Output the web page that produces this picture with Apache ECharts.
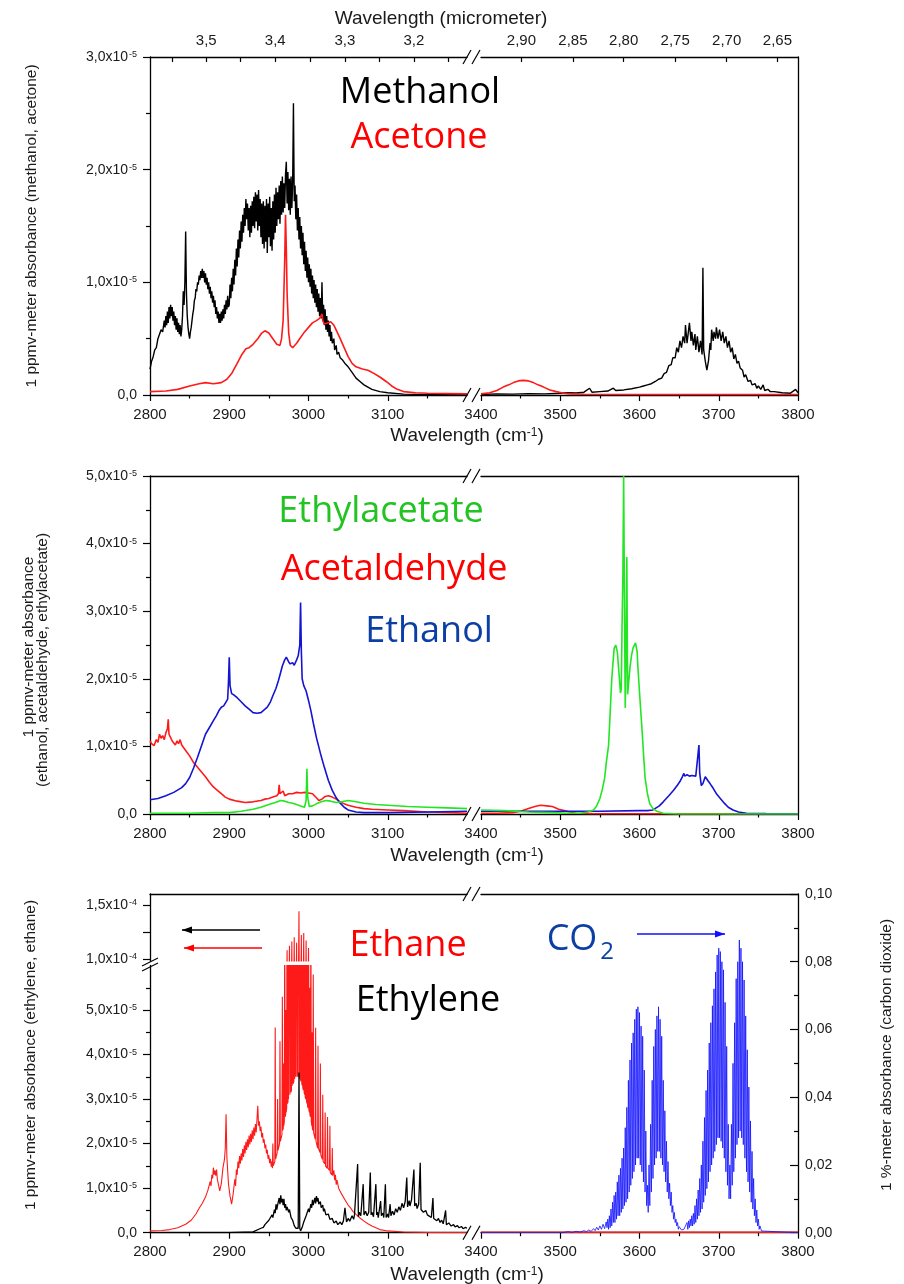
<!DOCTYPE html>
<html>
<head>
<meta charset="utf-8">
<script src="https://cdn.jsdelivr.net/npm/echarts@6/dist/echarts.min.js"></script>
<style>
html,body{margin:0;padding:0;background:#fff;}
#main{width:904px;height:1284px;}
</style>
</head>
<body>
<div id="main"></div>
<script>
/* ---- data: [wavenumber cm-1, absorbance] (ppmv panels in units of 1e-5) ---- */
var methanolLeft = [[2800,0.23],[2802,0.30],[2804,0.34],[2806,0.40],[2808,0.42],[2810,0.50],[2812,0.50],[2814,0.58],[2816,0.56],[2818,0.66],[2819,0.60],[2820,0.70],[2821,0.62],[2822,0.74],[2823,0.64],[2824,0.78],[2825,0.68],[2826,0.80],[2827,0.70],[2828,0.78],[2829,0.66],[2830,0.74],[2831,0.62],[2832,0.70],[2833,0.58],[2834,0.68],[2835,0.56],[2836,0.64],[2837,0.54],[2838,0.62],[2839,0.52],[2840,0.58],[2841,0.70],[2842,0.92],[2843,0.80],[2844,1.00],[2845,1.45],[2846,0.90],[2847,0.70],[2848,0.60],[2849,0.54],[2850,0.50],[2851,0.56],[2852,0.60],[2853,0.66],[2854,0.72],[2855,0.76],[2856,0.84],[2857,0.86],[2858,0.94],[2859,0.92],[2860,1.00],[2861,0.98],[2862,1.06],[2863,1.02],[2864,1.10],[2865,1.04],[2866,1.12],[2867,1.04],[2868,1.10],[2869,1.00],[2870,1.08],[2871,0.98],[2872,1.04],[2873,0.94],[2874,1.00],[2875,0.90],[2876,0.96],[2877,0.86],[2878,0.92],[2879,0.82],[2880,0.88],[2881,0.78],[2882,0.84],[2883,0.72],[2884,0.78],[2885,0.68],[2886,0.74],[2887,0.64],[2888,0.72],[2889,0.64],[2890,0.74],[2891,0.66],[2892,0.76],[2893,0.68],[2894,0.80],[2895,0.72],[2896,0.84],[2897,0.76],[2898,0.88],[2899,0.78],[2900,0.80],[2901,0.98],[2902,0.86],[2903,1.04],[2904,0.92],[2905,1.12],[2906,0.98],[2907,1.20],[2908,1.06],[2909,1.30],[2910,1.14],[2911,1.38],[2912,1.22],[2913,1.46],[2914,1.30],[2915,1.54],[2916,1.36],[2917,1.60],[2918,1.44],[2919,1.66],[2920,1.50],[2921,1.74],[2922,1.56],[2923,1.70],[2924,1.46],[2925,1.66],[2926,1.40],[2927,1.68],[2928,1.44],[2929,1.72],[2930,1.50],[2931,1.76],[2932,1.48],[2933,1.80],[2934,1.54],[2935,1.78],[2936,1.46],[2937,1.82],[2938,1.50],[2939,1.74],[2940,1.40],[2941,1.70],[2942,1.34],[2943,1.72],[2944,1.30],[2945,1.68],[2946,1.36],[2947,1.74],[2948,1.26],[2949,1.70],[2950,1.40],[2951,1.76],[2952,1.32],[2953,1.66],[2954,1.28],[2955,1.72],[2956,1.38],[2957,1.78],[2958,1.44],[2959,1.84],[2960,1.50],[2961,1.80],[2962,1.56],[2963,1.86],[2964,1.52],[2965,1.90],[2966,1.60],[2967,1.94],[2968,1.62],[2969,1.88],[2970,1.66],[2971,1.96],[2972,2.07],[2973,1.70],[2974,1.98],[2975,1.64],[2976,1.92],[2977,1.60],[2978,1.94],[2979,1.66],[2980,1.88],[2981,2.59],[2982,1.72],[2983,1.86],[2984,1.56],[2985,1.78],[2986,1.46],[2987,1.66],[2988,1.38],[2989,1.58],[2990,1.30],[2991,1.50],[2992,1.24],[2993,1.44],[2994,1.16],[2995,1.36],[2996,1.10],[2997,1.28],[2998,1.04],[2999,1.22],[3000,1.00],[3001,1.16],[3002,0.96],[3003,1.12],[3004,0.90],[3005,1.06],[3006,0.86],[3007,1.02],[3008,0.82],[3009,0.98],[3010,0.78],[3011,0.94],[3012,0.74],[3013,0.90],[3014,0.70],[3015,0.86],[3016,0.68],[3017,1.00],[3018,0.66],[3019,0.80],[3020,0.62],[3021,0.76],[3022,0.58],[3023,0.70],[3024,0.56],[3025,0.66],[3026,0.52],[3027,0.62],[3028,0.48],[3029,0.56],[3030,0.46],[3032,0.50],[3033,0.40],[3035,0.44],[3036,0.36],[3038,0.38],[3040,0.33],[3043,0.31],[3046,0.28],[3050,0.25],[3055,0.20],[3060,0.15],[3065,0.12],[3070,0.09],[3075,0.07],[3080,0.05],[3090,0.03],[3100,0.02],[3120,0.008],[3150,0.003],[3200,0.002]];
var methanolRight = [[3400,0.005],[3420,0.01],[3440,0.008],[3460,0.012],[3480,0.01],[3500,0.015],[3510,0.02],[3520,0.018],[3530,0.025],[3537,0.06],[3540,0.025],[3550,0.03],[3560,0.035],[3567,0.06],[3570,0.04],[3580,0.045],[3590,0.055],[3600,0.07],[3605,0.08],[3610,0.09],[3615,0.10],[3620,0.12],[3624,0.14],[3628,0.15],[3631,0.19],[3634,0.20],[3637,0.26],[3640,0.27],[3642,0.33],[3645,0.33],[3647,0.42],[3649,0.38],[3651,0.48],[3653,0.42],[3655,0.52],[3657,0.46],[3658,0.62],[3660,0.46],[3662,0.58],[3663,0.64],[3665,0.48],[3666,0.56],[3668,0.44],[3670,0.54],[3671,0.40],[3673,0.52],[3675,0.38],[3677,0.48],[3679,0.36],[3680,1.13],[3681,0.40],[3683,0.30],[3685,0.22],[3687,0.30],[3689,0.46],[3690,0.40],[3691,0.58],[3693,0.48],[3694,0.56],[3696,0.50],[3697,0.60],[3699,0.50],[3701,0.58],[3703,0.48],[3705,0.56],[3707,0.46],[3709,0.52],[3711,0.42],[3713,0.48],[3715,0.38],[3717,0.42],[3719,0.32],[3721,0.36],[3723,0.28],[3725,0.30],[3727,0.24],[3730,0.22],[3732,0.16],[3734,0.18],[3737,0.12],[3740,0.13],[3742,0.09],[3746,0.10],[3748,0.06],[3750,0.08],[3753,0.05],[3756,0.09],[3758,0.04],[3762,0.05],[3765,0.03],[3770,0.03],[3780,0.02],[3790,0.015],[3797,0.05],[3800,0.02]];
var acetoneLeft = [[2800,0.03],[2820,0.035],[2835,0.05],[2850,0.08],[2862,0.10],[2870,0.11],[2880,0.10],[2890,0.11],[2897,0.14],[2903,0.19],[2910,0.28],[2916,0.36],[2921,0.41],[2925,0.42],[2930,0.45],[2936,0.50],[2941,0.55],[2945,0.57],[2950,0.55],[2955,0.50],[2960,0.45],[2964,0.44],[2966,0.50],[2968,0.66],[2970,1.20],[2971,1.60],[2972,1.30],[2973,0.90],[2975,0.55],[2977,0.44],[2980,0.42],[2985,0.46],[2990,0.51],[2995,0.56],[3000,0.60],[3005,0.64],[3010,0.66],[3014,0.68],[3017,0.72],[3018,0.66],[3020,0.63],[3024,0.64],[3028,0.65],[3032,0.62],[3036,0.56],[3040,0.50],[3045,0.42],[3050,0.34],[3055,0.28],[3060,0.25],[3068,0.23],[3075,0.22],[3083,0.19],[3090,0.16],[3098,0.12],[3105,0.08],[3112,0.05],[3120,0.03],[3135,0.02],[3150,0.015],[3200,0.01]];
var acetoneRight = [[3400,0.01],[3411,0.02],[3420,0.04],[3428,0.07],[3435,0.09],[3441,0.11],[3447,0.125],[3453,0.13],[3460,0.125],[3466,0.11],[3472,0.09],[3479,0.07],[3487,0.045],[3495,0.03],[3504,0.015],[3512,0.01],[3530,0.006],[3600,0.005],[3700,0.005],[3800,0.005]];

var ethanolLeft = [[2800,0.21],[2810,0.23],[2820,0.27],[2830,0.32],[2840,0.39],[2845,0.45],[2850,0.54],[2855,0.68],[2860,0.84],[2865,1.01],[2870,1.18],[2875,1.28],[2880,1.38],[2884,1.46],[2887,1.53],[2890,1.58],[2893,1.60],[2896,1.66],[2898,1.70],[2899,1.95],[2900,2.32],[2901,1.90],[2903,1.78],[2906,1.76],[2910,1.72],[2915,1.66],[2920,1.60],[2925,1.55],[2930,1.50],[2935,1.49],[2940,1.50],[2944,1.54],[2948,1.58],[2952,1.66],[2955,1.75],[2959,1.86],[2962,1.97],[2965,2.10],[2967,2.19],[2970,2.28],[2972,2.32],[2975,2.25],[2977,2.22],[2980,2.24],[2982,2.20],[2985,2.28],[2987,2.34],[2989,2.50],[2990,3.13],[2991,2.40],[2992,2.00],[2994,1.90],[2997,1.82],[3000,1.68],[3003,1.53],[3006,1.35],[3010,1.13],[3015,0.90],[3020,0.69],[3025,0.50],[3030,0.35],[3035,0.24],[3040,0.16],[3045,0.10],[3050,0.06],[3060,0.03],[3070,0.02],[3100,0.02],[3150,0.03],[3200,0.04]];
var ethanolRight = [[3400,0.04],[3450,0.04],[3500,0.04],[3550,0.04],[3600,0.05],[3610,0.05],[3617,0.06],[3625,0.12],[3630,0.18],[3637,0.27],[3643,0.35],[3648,0.43],[3651,0.48],[3654,0.55],[3656,0.60],[3657,0.56],[3660,0.58],[3663,0.56],[3666,0.57],[3668,0.55],[3671,0.56],[3673,0.55],[3675,1.02],[3676,0.60],[3678,0.42],[3680,0.45],[3683,0.55],[3686,0.50],[3689,0.45],[3693,0.38],[3697,0.30],[3702,0.23],[3707,0.16],[3712,0.10],[3718,0.06],[3725,0.03],[3735,0.01],[3760,0.005],[3800,0]];
var acetaldehydeLeft = [[2800,1.08],[2802,1.04],[2805,1.01],[2808,1.10],[2810,1.06],[2812,1.18],[2814,1.12],[2816,1.16],[2818,1.10],[2820,1.20],[2822,1.26],[2823,1.40],[2824,1.18],[2826,1.13],[2828,1.08],[2830,1.06],[2832,1.02],[2834,1.08],[2836,1.04],[2838,1.10],[2840,1.02],[2842,1.00],[2845,0.94],[2850,0.86],[2855,0.76],[2860,0.69],[2865,0.62],[2870,0.55],[2875,0.47],[2880,0.40],[2885,0.35],[2890,0.30],[2895,0.25],[2900,0.22],[2910,0.19],[2920,0.17],[2930,0.18],[2940,0.20],[2945,0.22],[2950,0.23],[2955,0.25],[2960,0.27],[2962,0.30],[2963,0.43],[2964,0.30],[2966,0.28],[2968,0.34],[2970,0.27],[2975,0.30],[2980,0.30],[2985,0.32],[2990,0.31],[2995,0.32],[3000,0.31],[3005,0.30],[3010,0.24],[3013,0.20],[3017,0.22],[3021,0.26],[3025,0.27],[3030,0.25],[3035,0.22],[3040,0.18],[3045,0.15],[3050,0.13],[3060,0.10],[3070,0.08],[3080,0.07],[3100,0.06],[3120,0.05],[3150,0.03],[3180,0.02],[3200,0.01]];
var acetaldehydeRight = [[3400,0.01],[3420,0.01],[3440,0.02],[3450,0.04],[3460,0.08],[3468,0.11],[3475,0.13],[3483,0.12],[3490,0.11],[3498,0.07],[3505,0.05],[3512,0.03],[3520,0.01],[3540,0.005],[3600,0.003],[3800,0.003]];
var ethylacetateLeft = [[2800,0.01],[2850,0.01],[2880,0.02],[2900,0.02],[2915,0.04],[2930,0.07],[2940,0.10],[2950,0.14],[2958,0.17],[2965,0.20],[2970,0.19],[2975,0.17],[2980,0.16],[2985,0.14],[2990,0.12],[2995,0.10],[2997,0.20],[2998,0.67],[2999,0.25],[3001,0.11],[3005,0.12],[3010,0.15],[3016,0.18],[3022,0.20],[3028,0.19],[3035,0.17],[3042,0.18],[3050,0.20],[3060,0.18],[3070,0.16],[3085,0.14],[3100,0.13],[3125,0.11],[3150,0.10],[3175,0.09],[3200,0.08]];
var ethylacetateRight = [[3400,0.06],[3430,0.05],[3460,0.03],[3490,0.02],[3510,0.01],[3525,0.01],[3535,0.03],[3542,0.06],[3546,0.12],[3550,0.23],[3553,0.36],[3556,0.53],[3558,0.75],[3561,1.02],[3563,1.50],[3565,2.00],[3568,2.45],[3570,2.50],[3572,2.40],[3574,2.10],[3576,1.79],[3577,1.85],[3578,2.80],[3579,3.50],[3580,5.00],[3581,3.20],[3582,1.57],[3583,2.40],[3584,3.80],[3585,1.77],[3586,1.90],[3588,2.17],[3590,2.35],[3592,2.46],[3595,2.53],[3597,2.40],[3598,2.17],[3600,1.80],[3603,1.28],[3605,0.90],[3607,0.54],[3610,0.30],[3613,0.15],[3617,0.08],[3622,0.04],[3630,0.01],[3650,0],[3800,0]];

var ethaneLeft = [[2800,0.04],[2815,0.05],[2825,0.07],[2835,0.11],[2845,0.19],[2852,0.28],[2858,0.42],[2862,0.55],[2866,0.66],[2870,0.80],[2873,0.95],[2876,1.15],[2877,1.05],[2878,1.30],[2879,1.22],[2880,1.46],[2881,1.30],[2882,1.40],[2883,1.28],[2884,1.42],[2885,1.20],[2886,1.18],[2888,0.94],[2890,1.10],[2892,1.45],[2894,1.65],[2895,1.90],[2896,2.66],[2897,1.70],[2899,1.10],[2901,0.82],[2903,0.64],[2905,0.88],[2907,1.20],[2908,1.05],[2909,1.42],[2910,1.30],[2911,1.60],[2912,1.45],[2913,1.72],[2914,1.55],[2915,1.78],[2916,1.62],[2917,1.88],[2918,1.70],[2919,1.96],[2920,1.78],[2921,2.04],[2922,1.86],[2923,2.10],[2924,1.92],[2925,2.18],[2926,1.98],[2927,2.22],[2928,2.04],[2929,2.30],[2930,2.10],[2931,2.36],[2932,2.18],[2933,2.44],[2934,2.25],[2935,2.55],[2936,2.85],[2937,2.40],[2938,2.50],[2939,2.28],[2940,2.38],[2941,2.14],[2942,2.24],[2943,2.02],[2944,2.10],[2945,1.90],[2946,1.98],[2947,1.78],[2948,1.86],[2949,1.66],[2950,1.74],[2951,1.56],[2952,1.66],[2953,1.48],[2954,1.60],
	[2954.5,1.45],[2955,2.0],[2955.5,1.5],[2957.5,1.6],[2958,4.61],[2958.5,1.65],[2960.5,1.8],[2961,3.0],[2961.5,1.85],[2963.5,2.0],[2964,4.3],[2964.5,2.05],[2966.5,2.2],[2967,5.3],[2967.5,2.3],[2968.2,2.35],[2968.5,3.8],[2968.8,2.4],[2969.5,2.5],[2970,7.5],[2970.5,2.6],[2971.2,2.65],[2971.5,5.0],[2971.8,2.7],[2972.5,2.8],[2973,10.8],[2973.5,2.9],[2974.2,2.95],[2974.5,7.0],[2974.8,3.0],[2975.5,3.0],[2976,11.2],[2976.5,3.1],[2977.2,3.1],[2977.5,7.0],[2977.8,3.15],[2978.5,3.2],[2979,11.6],[2979.5,3.3],[2980.2,3.3],[2980.5,7.0],[2980.8,3.35],[2981.5,3.4],[2982,12.0],[2982.5,3.45],[2983.2,3.45],[2983.5,7.0],[2983.8,3.5],[2984.5,3.5],[2985,11.5],[2985.5,3.5],[2986.2,3.5],[2986.5,7.0],[2986.8,3.5],[2987.5,3.5],[2988,14.4],[2988.5,3.5],[2989.2,3.45],[2989.5,7.0],[2989.8,3.45],[2990.5,3.4],[2991,12.2],[2991.5,3.35],[2992.2,3.3],[2992.5,7.0],[2992.8,3.25],[2993.5,3.2],[2994,12.4],[2994.5,3.15],[2995.2,3.1],[2995.5,7.0],[2995.8,3.05],[2996.5,3.0],[2997,11.7],[2997.5,2.95],[2998.2,2.9],[2998.5,7.0],[2998.8,2.85],[2999.5,2.8],[3000,11.0],[3000.5,2.75],[3001.2,2.7],[3001.5,5.5],[3001.8,2.65],[3002.5,2.6],[3003,8.0],[3003.5,2.5],[3004.2,2.4],[3004.5,4.5],[3004.8,2.35],[3005.5,2.3],[3006,5.8],[3006.5,2.25],[3008.5,2.1],[3009,4.6],[3009.5,2.05],[3011.5,1.9],[3012,4.2],[3012.5,1.9],[3014.5,1.8],[3015,3.8],[3015.5,1.75],[3017.5,1.65],[3018,3.1],[3018.5,1.6],[3020.5,1.55],[3021,2.7],[3021.5,1.5],[3023.5,1.45],[3024,2.6],[3024.5,1.45],[3026.5,1.4],[3027,2.4],[3027.5,1.35],[3029.5,1.3],[3030,1.9],[3030.5,1.28],
	[3032,1.40],[3033,1.18],[3034,1.30],[3035,1.08],[3036,1.18],[3038,1.00],[3040,0.98],[3042,0.86],[3044,0.84],[3046,0.74],[3048,0.72],[3050,0.62],[3053,0.56],[3056,0.48],[3060,0.41],[3065,0.33],[3070,0.26],[3075,0.20],[3080,0.15],[3090,0.07],[3100,0.04],[3120,0.015],[3150,0.005],[3200,0.002]];
var ethaneRight = [[3400,0.01],[3600,0.01],[3800,0.01]];
var ethyleneLeft = [[2800,0],[2900,0],[2930,0.02],[2940,0.10],[2943,0.12],[2945,0.18],[2947,0.16],[2950,0.28],[2952,0.26],[2954,0.40],[2955,0.34],[2957,0.52],[2958,0.44],[2959,0.64],[2960,0.52],[2961,0.62],[2962,0.58],[2963,0.78],[2964,0.64],[2965,0.84],[2966,0.68],[2967,0.76],[2968,0.62],[2969,0.76],[2970,0.56],[2971,0.64],[2972,0.50],[2973,0.58],[2975,0.46],[2976,0.52],[2978,0.34],[2980,0.28],[2982,0.16],[2984,0.10],[2986,0.08],[2987,0.10],[2988,3.60],[2989,0.10],[2990,0.04],[2992,0.12],[2994,0.24],[2995,0.20],[2997,0.38],[2998,0.34],[3000,0.54],[3001,0.46],[3003,0.64],[3004,0.56],[3005,0.74],[3006,0.62],[3008,0.78],[3009,0.66],[3010,0.82],[3011,0.70],[3012,0.78],[3013,0.64],[3015,0.70],[3016,0.56],[3018,0.62],[3019,0.48],[3020,0.54],[3022,0.40],[3025,0.42],[3027,0.30],[3030,0.32],[3032,0.22],[3035,0.26],[3037,0.18],[3040,0.24],[3042,0.18],[3044,0.26],[3046,0.56],[3048,0.24],[3050,0.32],[3052,0.26],[3055,0.38],[3057,0.30],[3058,0.40],[3062,1.54],[3063,0.36],[3064,0.46],[3066,0.38],[3069,1.09],[3070,0.40],[3072,0.48],[3074,0.38],[3076,0.46],[3078,1.35],[3079,0.40],[3080,0.46],[3082,0.36],[3085,1.09],[3086,0.40],[3087,0.46],[3088,0.34],[3091,0.71],[3092,0.38],[3094,0.44],[3095,0.34],[3097,1.09],[3098,0.34],[3100,0.42],[3101,0.34],[3103,0.64],[3104,0.38],[3106,0.48],[3108,0.40],[3110,0.54],[3112,0.46],[3114,0.58],[3116,0.50],[3118,0.66],[3120,0.56],[3122,0.70],[3124,1.24],[3125,0.58],[3127,0.72],[3128,0.60],[3130,0.74],[3133,1.42],[3134,0.60],[3136,0.66],[3137,0.54],[3139,0.64],[3141,1.57],[3142,0.52],[3144,0.56],[3145,0.46],[3148,0.50],[3150,0.40],[3152,0.44],[3155,0.34],[3157,0.78],[3158,0.32],[3160,0.36],[3162,0.27],[3164,0.32],[3166,0.23],[3168,0.28],[3170,0.20],[3173,0.50],[3174,0.18],[3177,0.22],[3180,0.15],[3183,0.18],[3185,0.13],[3188,0.16],[3190,0.11],[3193,0.14],[3195,0.09],[3198,0.12],[3200,0.10]];
/* CO2 in %-meter units, right axis */
var co2Right = [[3400,0],[3500,0],[3505,0.0001],[3510,0.0003],[3515,0.0001],[3520,0.0004],[3525,0.0002],[3530,0.0006],[3533,0.0003],[3536,0.0008],[3539,0.0004],[3542,0.0012],[3544,0.0006],[3546,0.0016],[3548,0.0008],[3550,0.002],[3552,0.001],[3554,0.0025],[3556,0.0012],[3558,0.0032],[3559,0.0015],[3560,0.004],[3561,0.001],[3562,0.005],[3563,0.0015],[3564,0.007],[3565,0.002],[3566,0.009],[3567,0.003],[3568,0.011],[3569,0.003],[3570,0.012],[3571,0.004],[3572,0.015],[3573,0.005],[3574,0.017],[3575,0.005],[3576,0.019],[3577,0.006],[3578,0.022],[3579,0.007],[3580,0.025],[3581,0.008],[3582,0.031],[3583,0.009],[3584,0.037],[3585,0.01],[3586,0.045],[3587,0.012],[3588,0.051],[3589,0.014],[3590,0.056],[3591,0.016],[3592,0.059],[3593,0.018],[3594,0.063],[3595,0.02],[3596,0.066],[3597,0.022],[3598,0.0667],[3599,0.022],[3600,0.065],[3601,0.02],[3602,0.061],[3603,0.018],[3604,0.058],[3605,0.015],[3606,0.048],[3607,0.012],[3608,0.030],[3609,0.008],[3610,0.014],[3611,0.006],[3612,0.020],[3613,0.008],[3614,0.032],[3615,0.012],[3616,0.045],[3617,0.016],[3618,0.055],[3619,0.02],[3620,0.060],[3621,0.022],[3622,0.064],[3623,0.024],[3624,0.0667],[3625,0.024],[3626,0.063],[3627,0.022],[3628,0.058],[3629,0.02],[3630,0.045],[3631,0.018],[3632,0.036],[3633,0.015],[3634,0.027],[3635,0.012],[3636,0.021],[3637,0.01],[3638,0.0146],[3639,0.008],[3640,0.012],[3641,0.006],[3642,0.008],[3643,0.004],[3644,0.006],[3645,0.003],[3646,0.004],[3647,0.002],[3648,0.003],[3649,0.001],[3650,0.0018],[3653,0.0008],[3656,0.001],[3658,0.0015],[3660,0.003],[3661,0.001],[3662,0.0035],[3663,0.0015],[3664,0.004],[3665,0.002],[3666,0.005],[3667,0.002],[3668,0.0057],[3669,0.0025],[3670,0.008],[3671,0.003],[3672,0.010],[3673,0.004],[3674,0.0126],[3675,0.005],[3676,0.016],[3677,0.006],[3678,0.020],[3679,0.007],[3680,0.027],[3681,0.009],[3682,0.034],[3683,0.011],[3684,0.042],[3685,0.013],[3686,0.048],[3687,0.015],[3688,0.056],[3689,0.018],[3690,0.062],[3691,0.02],[3692,0.067],[3693,0.022],[3694,0.072],[3695,0.024],[3696,0.077],[3697,0.026],[3698,0.082],[3699,0.028],[3700,0.084],[3701,0.028],[3702,0.083],[3703,0.027],[3704,0.080],[3705,0.025],[3706,0.0776],[3707,0.022],[3708,0.068],[3709,0.018],[3710,0.055],[3711,0.014],[3712,0.032],[3713,0.010],[3714,0.020],[3715,0.010],[3716,0.032],[3717,0.014],[3718,0.050],[3719,0.018],[3720,0.062],[3721,0.022],[3722,0.075],[3723,0.026],[3724,0.080],[3725,0.028],[3726,0.0864],[3727,0.03],[3728,0.084],[3729,0.028],[3730,0.080],[3731,0.026],[3732,0.0746],[3733,0.022],[3734,0.064],[3735,0.018],[3736,0.054],[3737,0.015],[3738,0.043],[3739,0.012],[3740,0.033],[3741,0.009],[3742,0.024],[3743,0.007],[3744,0.016],[3745,0.005],[3746,0.010],[3747,0.003],[3748,0.0067],[3749,0.002],[3750,0.004],[3751,0.001],[3752,0.002],[3754,0.0005],[3756,0],[3800,0]];

/* tick labels */
var xLeftLabels = [2800, 2900, 3000, 3100];
var xRightLabels = [3400, 3500, 3600, 3700, 3800];
var umLeftTicks = [2828, 2871, 2914, 2958, 3002, 3046, 3089, 3133, 3176];
var umLeftPos = [2871, 2958, 3046, 3133];
var umLeftText = ['3,5', '3,4', '3,3', '3,2'];
var umRightPos = [3451, 3516, 3580, 3645, 3710, 3774];
var umRightText = ['2,90', '2,85', '2,80', '2,75', '2,70', '2,65'];

/* layout */
var FONT = 'Liberation Sans';
var BIG = 'Open Sans';
var INK = '#1a1a1a';
var L0 = 150, LW = 317, R0 = 481, RW = 317;
var lineCol = '#000';

var sciRich = {
	m: {fontFamily: FONT, fontSize: 14, color: INK},
	e: {fontFamily: FONT, fontSize: 9, color: INK, verticalAlign: 'top', padding: [0, 0, 0, 1]}
};
function sci(exp, div) {
	return function (v) {
		if (v === 0) return '{m|0,0}';
		return '{m|' + (v / div).toFixed(1).replace('.', ',') + 'x10}{e|' + exp + '}';
	};
}
function lookup(pos, text) {
	return function (v) {
		for (var i = 0; i < pos.length; i++) {
			if (Math.abs(pos[i] - v) < 0.5) return text[i];
		}
		return '';
	};
}
function plain(v) { return '' + v; }

/* x axes */
function bottomX(g, min, max, labels) {
	return {
		type: 'value', gridIndex: g, position: 'bottom', min: min, max: max, interval: 100,
		axisLine: {show: true, onZero: false, lineStyle: {color: lineCol, width: 1.3}},
		axisTick: {show: true, length: 6, customValues: labels, lineStyle: {color: lineCol, width: 1.2}},
		minorTick: {show: true, splitNumber: 2, length: 3.5, lineStyle: {color: lineCol, width: 1.2}},
		axisLabel: {customValues: labels, formatter: plain, fontFamily: FONT, fontSize: 15, color: INK, margin: 12},
		splitLine: {show: false}, minorSplitLine: {show: false}
	};
}
function plainX(g, min, max, pos) {
	return {
		type: 'value', gridIndex: g, position: pos, min: min, max: max,
		axisLine: {show: true, onZero: false, lineStyle: {color: lineCol, width: 1.3}},
		axisTick: {show: false}, axisLabel: {show: false}, splitLine: {show: false}
	};
}
function umX(g, min, max, ticks, pos, text) {
	return {
		type: 'value', gridIndex: g, position: 'top', min: min, max: max,
		axisLine: {show: true, onZero: false, lineStyle: {color: lineCol, width: 1.3}},
		axisTick: {show: true, inside: true, length: 5, customValues: ticks, lineStyle: {color: lineCol, width: 1.2}},
		axisLabel: {customValues: pos, formatter: lookup(pos, text), fontFamily: FONT, fontSize: 15, color: INK, margin: 9},
		splitLine: {show: false}
	};
}
/* y axes */
function leftY(g, min, max, interval, ticks, labels, fmt, minor) {
	return {
		type: 'value', gridIndex: g, position: 'left', min: min, max: max, interval: interval,
		axisLine: {show: true, onZero: false, lineStyle: {color: lineCol, width: 1.3}},
		axisTick: {show: true, length: 7, customValues: ticks, lineStyle: {color: lineCol, width: 1.2}},
		minorTick: {show: minor, splitNumber: 2, length: 4, lineStyle: {color: lineCol, width: 1.2}},
		axisLabel: {customValues: labels, formatter: fmt, rich: sciRich, margin: 13},
		splitLine: {show: false}, minorSplitLine: {show: false}
	};
}
function plainRightY(g, min, max) {
	return {
		type: 'value', gridIndex: g, position: 'right', min: min, max: max,
		axisLine: {show: true, onZero: false, lineStyle: {color: lineCol, width: 1.3}},
		axisTick: {show: false}, axisLabel: {show: false}, splitLine: {show: false}
	};
}

var grids = [
	{left: L0, top: 57, width: LW, height: 338},
	{left: R0, top: 57, width: RW, height: 338},
	{left: L0, top: 476, width: LW, height: 338},
	{left: R0, top: 476, width: RW, height: 338},
	{left: L0, top: 894, width: LW, height: 67},
	{left: L0, top: 965.5, width: LW, height: 267.2},
	{left: R0, top: 894, width: RW, height: 338.7}
];
grids.forEach(function (g) { g.outerBoundsMode = 'none'; g.containLabel = false; });

var xAxes = [
	bottomX(0, 2800, 3200, xLeftLabels),                              /* 0 */
	umX(0, 2800, 3200, umLeftTicks, umLeftPos, umLeftText),         /* 1 */
	bottomX(1, 3400, 3800, xRightLabels),                             /* 2 */
	umX(1, 3400, 3800, umRightPos, umRightPos, umRightText),        /* 3 */
	bottomX(2, 2800, 3200, xLeftLabels),                              /* 4 */
	plainX(2, 2800, 3200, 'top'),                                     /* 5 */
	bottomX(3, 3400, 3800, xRightLabels),                             /* 6 */
	plainX(3, 3400, 3800, 'top'),                                     /* 7 */
	plainX(4, 2800, 3200, 'top'),                                     /* 8 */
	bottomX(5, 2800, 3200, xLeftLabels),                              /* 9 */
	bottomX(6, 3400, 3800, xRightLabels),                             /* 10 */
	plainX(6, 3400, 3800, 'top')                                      /* 11 */
];

var co2Axis = {
	type: 'value', gridIndex: 6, position: 'right', min: 0, max: 0.1, interval: 0.02,
	axisLine: {show: true, onZero: false, lineStyle: {color: lineCol, width: 1.3}},
	axisTick: {show: true, inside: true, length: 8, lineStyle: {color: lineCol, width: 1.2}},
	minorTick: {show: true, splitNumber: 2, length: 4, lineStyle: {color: lineCol, width: 1.2}},
	axisLabel: {formatter: function (v) { return v.toFixed(2).replace('.', ','); }, fontFamily: FONT, fontSize: 14, color: INK, margin: 7},
	splitLine: {show: false}, minorSplitLine: {show: false}
};
var yAxes = [
	leftY(0, 0, 3, 1, null, null, sci('-5', 1), true),                /* 0 */
	plainRightY(1, 0, 3),                                            /* 1 */
	leftY(2, 0, 5, 1, null, null, sci('-5', 1), true),                /* 2 */
	plainRightY(3, 0, 5),                                            /* 3 */
	leftY(4, 9.8, 16, null, [10, 12.5, 15], [10, 15], sci('-4', 10), false), /* 4 */
	leftY(5, 0, 6, 1, [0, 1, 2, 3, 4, 5], [0, 1, 2, 3, 4, 5], sci('-5', 1), true), /* 5 */
	co2Axis,                                                          /* 6 */
	{type: 'value', gridIndex: 6, show: false, min: 0, max: 7.61}     /* 7 */
];

function line(data, color, xi, yi, w) {
	return {
		type: 'line', data: data, xAxisIndex: xi, yAxisIndex: yi, symbol: 'none', showSymbol: false,
		clip: true, silent: true, animation: false,
		lineStyle: {color: color, width: w || 1.6}
	};
}
var RED = '#ff1a1a', BLACK = '#000000', GREEN = '#22e622', BLUE = '#1414d2', CO2C = '#1010ff';
var series = [
	line(methanolLeft, BLACK, 0, 0, 1.4), line(acetoneLeft, RED, 0, 0),
	line(methanolRight, BLACK, 2, 1, 1.4), line(acetoneRight, RED, 2, 1),
	line(acetaldehydeLeft, RED, 4, 2), line(ethanolLeft, BLUE, 4, 2), line(ethylacetateLeft, GREEN, 4, 2),
	line(acetaldehydeRight, RED, 6, 3), line(ethanolRight, BLUE, 6, 3), line(ethylacetateRight, GREEN, 6, 3),
	line(ethaneLeft, RED, 8, 4, 1.1), line(ethyleneLeft, BLACK, 8, 4, 1.2),
	line(ethaneLeft, RED, 9, 5, 1.1), line(ethyleneLeft, BLACK, 9, 5, 1.3),
	line(ethaneRight, RED, 10, 7), line(co2Right, CO2C, 10, 6, 0.8)
];

/* decorations: titles, labels, break marks, arrows */
var gfx = [];
function txt(x, y, text, size, color, font, rot, rich) {
	var el = {
		type: 'text', x: x, y: y, rotation: rot || 0, z: 100,
		style: {text: text, fill: color, font: size + 'px "' + font + '"', fontSize: size, fontFamily: font,
			textAlign: 'center', textVerticalAlign: 'middle', align: 'center', verticalAlign: 'middle'}
	};
	if (rich) el.style.rich = rich;
	gfx.push(el);
}
function seg(x1, y1, x2, y2, color, w) {
	gfx.push({type: 'line', z: 100, shape: {x1: x1, y1: y1, x2: x2, y2: y2}, style: {stroke: color, lineWidth: w || 1.3}});
}
function arrow(x1, x2, y, color) {
	seg(x1, y, x2, y, color, 1.3);
	var d = x2 > x1 ? 1 : -1;
	gfx.push({type: 'polygon', z: 100, shape: {points: [[x2, y], [x2 - d * 10, y - 3.5], [x2 - d * 10, y + 3.5]]}, style: {fill: color}});
}
function xBreak(y) {
	seg(463, y + 7, 471, y - 7, '#000', 1.2);
	seg(472, y + 7, 480, y - 7, '#000', 1.2);
}
[57, 395, 476, 814, 894, 1232.7].forEach(xBreak);
seg(142, 966, 158, 958, '#000', 1.2);
seg(142, 971, 158, 963, '#000', 1.2);

var cmRich = {
	a: {fontFamily: FONT, fontSize: 19, color: INK},
	b: {fontFamily: FONT, fontSize: 12, color: INK, verticalAlign: 'top'}
};
txt(441, 19, 'Wavelength (micrometer)', 19, INK, FONT);
txt(467, 436, '{a|Wavelength (cm}{b|-1}{a|)}', 19, INK, FONT, 0, cmRich);
txt(467, 856, '{a|Wavelength (cm}{b|-1}{a|)}', 19, INK, FONT, 0, cmRich);
txt(467, 1275, '{a|Wavelength (cm}{b|-1}{a|)}', 19, INK, FONT, 0, cmRich);
txt(32, 226, '1 ppmv-meter absorbance (methanol, acetone)', 15.5, INK, FONT, Math.PI / 2);
txt(29, 647, '1 ppmv-meter absorbance', 15.5, INK, FONT, Math.PI / 2);
txt(43, 660, '(ethanol, acetaldehyde, ethylacetate)', 15.5, INK, FONT, Math.PI / 2);
txt(31, 1055, '1 ppmv-meter absorbance (ethylene, ethane)', 15.5, INK, FONT, Math.PI / 2);
txt(887, 1055, '1 %-meter absorbance (carbon dioxide)', 15.5, INK, FONT, Math.PI / 2);

txt(420, 93, 'Methanol', 36, '#000000', BIG);
txt(419, 138, 'Acetone', 36, '#ff0000', BIG);
txt(381, 512, 'Ethylacetate', 36, '#22c322', BIG);
txt(394, 570, 'Acetaldehyde', 36, '#ff0000', BIG);
txt(429, 632, 'Ethanol', 36, '#0b3fa6', BIG);
txt(408, 946, 'Ethane', 36, '#ff0000', BIG);
txt(428, 1001, 'Ethylene', 36, '#000000', BIG);
txt(572, 940, 'CO', 36, '#0b3fa6', BIG);
txt(607, 952, '2', 24, '#0b3fa6', BIG);

arrow(260, 182, 930, '#000000');
arrow(262, 184, 948, '#ff0000');
arrow(637, 725, 934, '#1010ff');

var chart = echarts.init(document.getElementById('main'), null, {renderer: 'canvas'});
chart.setOption({
	animation: false,
	backgroundColor: '#ffffff',
	grid: grids,
	xAxis: xAxes,
	yAxis: yAxes,
	series: series,
	graphic: {elements: gfx}
});
</script>
</body>
</html>
